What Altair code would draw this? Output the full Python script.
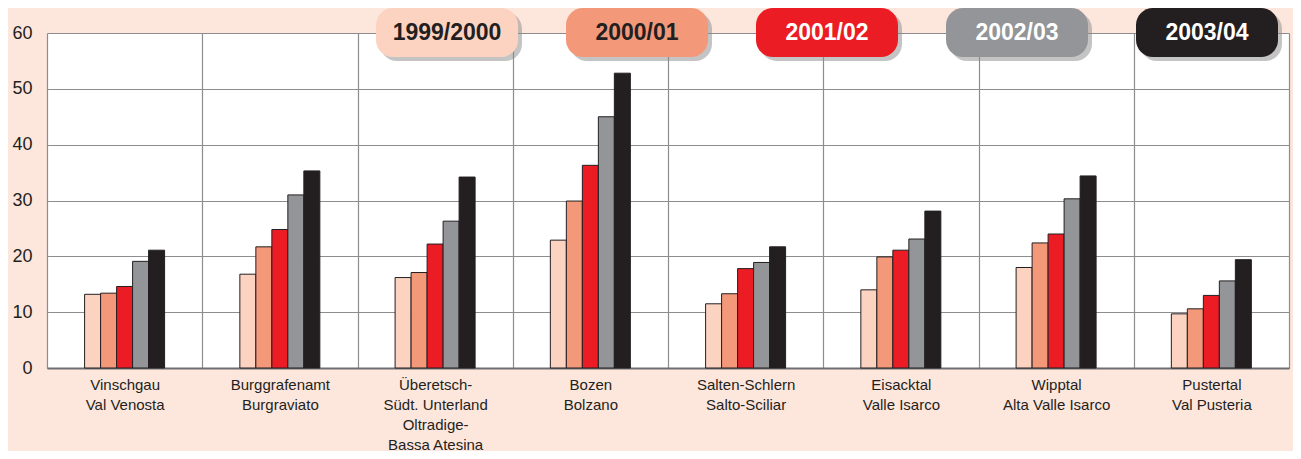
import altair as alt
import pandas as pd

regions = [
    "Vinschgau|Val Venosta",
    "Burggrafenamt|Burgraviato",
    "Überetsch-|Südt. Unterland|Oltradige-|Bassa Atesina",
    "Bozen|Bolzano",
    "Salten-Schlern|Salto-Sciliar",
    "Eisacktal|Valle Isarco",
    "Wipptal|Alta Valle Isarco",
    "Pustertal|Val Pusteria",
]
years = ["1999/2000", "2000/01", "2001/02", "2002/03", "2003/04"]

v_1999 = [13.2, 16.8, 16.2, 22.9, 11.5, 14.0, 18.0, 9.7]
v_2000 = [13.4, 21.7, 17.1, 29.9, 13.3, 19.9, 22.4, 10.6]
v_2001 = [14.6, 24.8, 22.2, 36.3, 17.8, 21.1, 24.0, 13.0]
v_2002 = [19.1, 31.0, 26.3, 45.0, 18.9, 23.1, 30.3, 15.6]
v_2003 = [21.1, 35.3, 34.2, 52.8, 21.7, 28.1, 34.4, 19.4]

bar_colors = ["#fcd3c1", "#f4987a", "#ec1c24", "#939598", "#231f20"]
text_colors = ["#231f20", "#231f20", "#ffffff", "#ffffff", "#ffffff"]

rows = []
for yr, vals in zip(years, [v_1999, v_2000, v_2001, v_2002, v_2003]):
    for r, v in zip(regions, vals):
        rows.append({"region": r, "year": yr, "value": v})
df = pd.DataFrame(rows)
leg = pd.DataFrame({"year": years})

FONT = "Liberation Sans, Arial, sans-serif"
DARK = "#231f20"
GRID = "#8d8d8f"

bars = alt.Chart(df).mark_bar(stroke=DARK, strokeWidth=1).encode(
    x=alt.X(
        "region:N", sort=regions,
        scale=alt.Scale(paddingInner=0, paddingOuter=0),
        axis=alt.Axis(
            title=None, labelAngle=0, labelExpr="split(datum.label, '|')",
            tickBand="extent", grid=True, gridColor=GRID, gridWidth=1.2,
            ticks=False, domainColor="#6d6e71", domainWidth=2,
            labelFont=FONT, labelFontSize=15, labelLineHeight=20,
            labelColor=DARK, labelPadding=9, labelLimit=0,
        ),
    ),
    xOffset=alt.XOffset("year:N", sort=years,
                        scale=alt.Scale(range=[37.6, 117.6])),
    y=alt.Y(
        "value:Q", scale=alt.Scale(domain=[0, 60]),
        axis=alt.Axis(
            title=None, values=[0, 10, 20, 30, 40, 50, 60], ticks=False,
            domain=False, grid=True, gridColor=GRID, gridWidth=1.2,
            labelFont=FONT, labelFontSize=18,
            labelColor=DARK, labelPadding=15,
        ),
    ),
    color=alt.Color("year:N", sort=years,
                    scale=alt.Scale(domain=years, range=bar_colors), legend=None),
)

shadow = alt.Chart(leg).mark_rect(width=142, cornerRadius=17, color="#8a8a8a", opacity=0.5).encode(
    x=alt.X("year:N", sort=years,
            scale=alt.Scale(type="point", domain=years, range=[404, 1164], padding=0), axis=None),
    y=alt.value(-21), y2=alt.value(28),
)

badge = alt.Chart(leg).mark_rect(width=142, cornerRadius=17).encode(
    x=alt.X("year:N", sort=years,
            scale=alt.Scale(type="point", domain=years, range=[400, 1160], padding=0), axis=None),
    y=alt.value(-25), y2=alt.value(24),
    color=alt.Color("year:N", sort=years,
                    scale=alt.Scale(domain=years, range=bar_colors), legend=None),
)

label = alt.Chart(leg).mark_text(
    font=FONT, fontSize=23, fontWeight="bold", baseline="middle", align="center"
).encode(
    x=alt.X("year:N", sort=years,
            scale=alt.Scale(type="point", domain=years, range=[400, 1160], padding=0), axis=None),
    y=alt.value(0),
    text="year:N",
    color=alt.Color("year:N", sort=years,
                    scale=alt.Scale(domain=years, range=text_colors), legend=None),
)

chart = alt.layer(bars, shadow, badge, label).resolve_scale(
    x="independent", color="independent"
).properties(
    width=1242, height=335,
    padding={"left": 39, "top": 25, "right": 4, "bottom": 83},
    autosize=alt.AutoSizeParams(type="none"),
    background="#fde6dc",
).configure_view(stroke=None, fill="#ffffff")

chart.save("out.html", embed_options={"renderer": "svg", "actions": False})
